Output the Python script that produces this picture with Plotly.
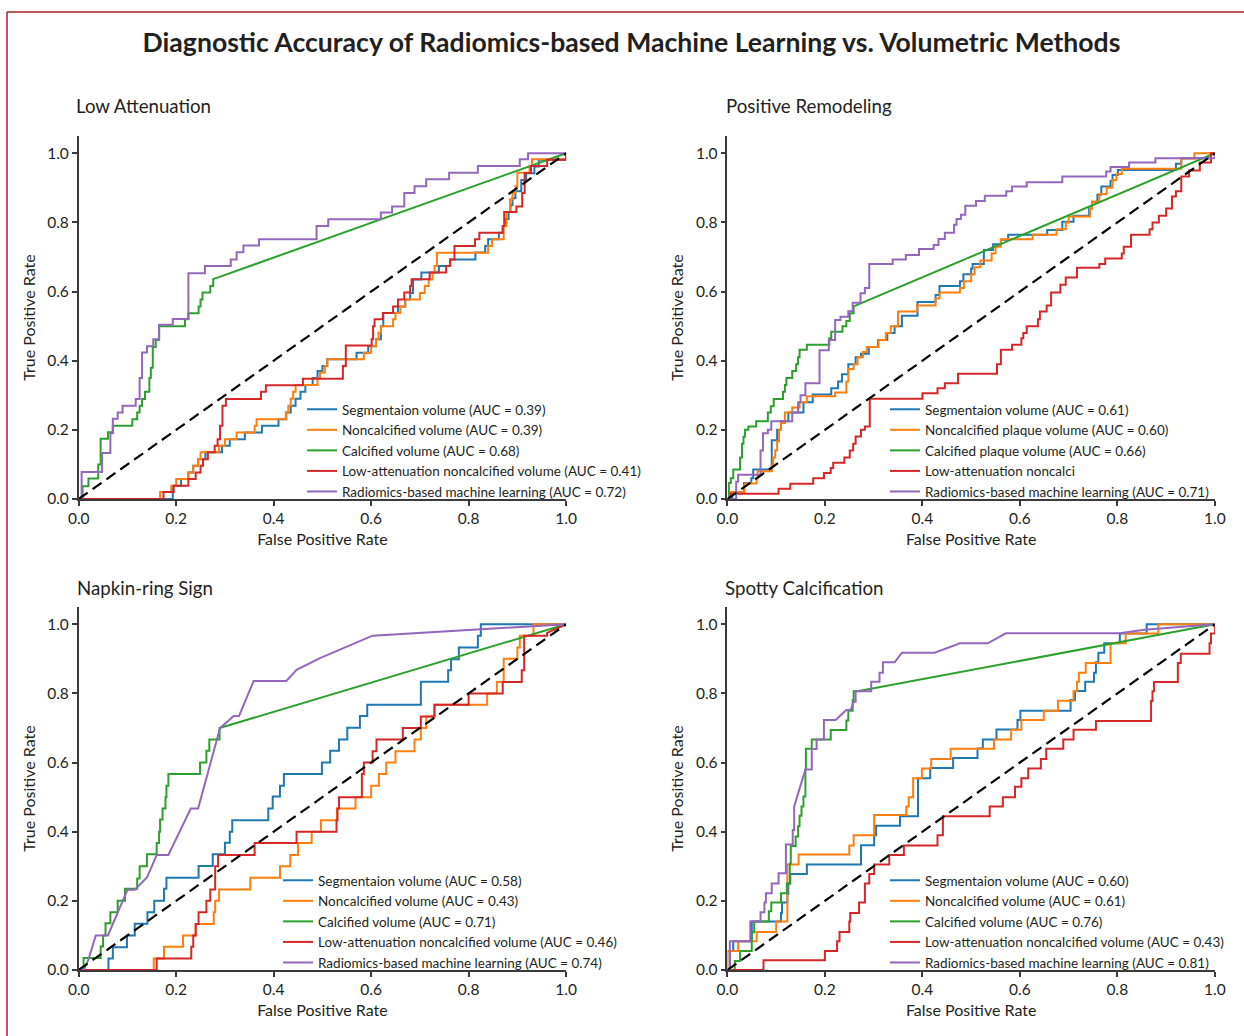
import plotly.graph_objects as go

# ---------------- data (ROC step vertices: (fpr, tpr) ; third item 'L' = straight segment) -------------
CURVE_NAMES_A = ["Segmentaion volume", "Noncalcified volume", "Calcified volume",
                 "Low-attenuation noncalcified volume", "Radiomics-based machine learning"]
CURVE_NAMES_B = ["Segmentaion volume", "Noncalcified plaque volume", "Calcified plaque volume",
                 "Low-attenuation noncalci", "Radiomics-based machine learning"]
PANEL_TITLES = ["Low Attenuation", "Positive Remodeling", "Napkin-ring Sign", "Spotty Calcification"]
AUC_LA = [0.39, 0.39, 0.68, 0.41, 0.72]
AUC_PR = [0.61, 0.60, 0.66, None, 0.71]
AUC_NR = [0.58, 0.43, 0.71, 0.46, 0.74]
AUC_SC = [0.60, 0.61, 0.76, 0.43, 0.81]
COLORS = ["#1f77b4", "#ff7f0e", "#2ca02c", "#d62728", "#9467bd"]

# Low Attenuation
LA_SEG = [(0, 0), (0.193, 0.038), (0.21, 0.058), (0.225, 0.077), (0.235, 0.096), (0.245, 0.115), (0.26, 0.135),
          (0.294, 0.154), (0.31, 0.173), (0.341, 0.192), (0.376, 0.212), (0.41, 0.231), (0.426, 0.25), (0.435, 0.27),
          (0.445, 0.29), (0.455, 0.31), (0.465, 0.33), (0.48, 0.35), (0.49, 0.37), (0.5, 0.385), (0.51, 0.404),
          (0.57, 0.423), (0.594, 0.442), (0.61, 0.462), (0.62, 0.5), (0.625, 0.538), (0.655, 0.557), (0.67, 0.577),
          (0.68, 0.596), (0.686, 0.635), (0.703, 0.655), (0.739, 0.674), (0.762, 0.693), (0.814, 0.713),
          (0.834, 0.732), (0.84, 0.751), (0.862, 0.77), (0.87, 0.79), (0.876, 0.81), (0.882, 0.83), (0.886, 0.85),
          (0.89, 0.87), (0.896, 0.89), (0.908, 0.923), (0.918, 0.942), (0.935, 0.962), (0.944, 0.981), (1.0, 1.0)]
LA_NONCAL = [(0, 0), (0.167, 0.02), (0.19, 0.038), (0.2, 0.058), (0.225, 0.077), (0.235, 0.096), (0.245, 0.115),
             (0.25, 0.135), (0.288, 0.154), (0.3, 0.173), (0.324, 0.192), (0.361, 0.212), (0.365, 0.231),
             (0.425, 0.25), (0.43, 0.27), (0.435, 0.29), (0.44, 0.31), (0.445, 0.33), (0.49, 0.35), (0.495, 0.366),
             (0.505, 0.385), (0.51, 0.404), (0.585, 0.423), (0.6, 0.442), (0.61, 0.462), (0.615, 0.481),
             (0.62, 0.5), (0.645, 0.52), (0.65, 0.538), (0.66, 0.557), (0.67, 0.577), (0.7, 0.596), (0.71, 0.616),
             (0.718, 0.635), (0.726, 0.655), (0.73, 0.674), (0.735, 0.712), (0.84, 0.732), (0.848, 0.751),
             (0.872, 0.79), (0.878, 0.83), (0.885, 0.867), (0.89, 0.885), (0.896, 0.905), (0.9, 0.944),
             (0.925, 0.963), (0.93, 0.983), (1.0, 1.0)]
LA_CAL = [(0, 0), (0.008, 0.037), (0.02, 0.059), (0.04, 0.1), (0.045, 0.174), (0.06, 0.193), (0.07, 0.212),
          (0.11, 0.231), (0.12, 0.25), (0.125, 0.27), (0.13, 0.289), (0.136, 0.31), (0.145, 0.35), (0.148, 0.38),
          (0.152, 0.44), (0.158, 0.46), (0.165, 0.5), (0.218, 0.52), (0.225, 0.537), (0.246, 0.557),
          (0.25, 0.577), (0.254, 0.597), (0.27, 0.616), (0.276, 0.636), (1.0, 1.0, 'L')]
LA_LOWATT = [(0, 0), (0.174, 0.02), (0.195, 0.038), (0.225, 0.058), (0.24, 0.077), (0.25, 0.096), (0.255, 0.115),
             (0.265, 0.135), (0.279, 0.154), (0.285, 0.173), (0.29, 0.212), (0.295, 0.27), (0.302, 0.289),
             (0.374, 0.31), (0.384, 0.329), (0.46, 0.348), (0.542, 0.385), (0.548, 0.444), (0.601, 0.462),
             (0.604, 0.5), (0.607, 0.52), (0.624, 0.538), (0.645, 0.557), (0.655, 0.577), (0.668, 0.597),
             (0.68, 0.616), (0.683, 0.636), (0.72, 0.655), (0.754, 0.674), (0.762, 0.693), (0.771, 0.732),
             (0.813, 0.751), (0.822, 0.77), (0.87, 0.79), (0.873, 0.83), (0.898, 0.846), (0.91, 0.885),
             (0.915, 0.943), (0.928, 0.963), (0.961, 0.981), (1.0, 1.0)]
LA_RAD = [(0, 0), (0.006, 0.078), (0.048, 0.133), (0.065, 0.19), (0.07, 0.232), (0.08, 0.25), (0.09, 0.27),
          (0.117, 0.289), (0.125, 0.35), (0.13, 0.424), (0.14, 0.442), (0.153, 0.462), (0.165, 0.504),
          (0.193, 0.521), (0.225, 0.653), (0.259, 0.674), (0.312, 0.693), (0.324, 0.714), (0.338, 0.733),
          (0.37, 0.751), (0.488, 0.79), (0.512, 0.809), (0.62, 0.829), (0.643, 0.846), (0.668, 0.885),
          (0.689, 0.905), (0.713, 0.925), (0.76, 0.944), (0.819, 0.963), (0.905, 0.983), (0.922, 1.0), (1.0, 1.0)]

# Positive Remodeling
PR_SEG = [(0, 0), (0.01, 0.02), (0.034, 0.046), (0.049, 0.06), (0.053, 0.085), (0.091, 0.17), (0.102, 0.2),
          (0.11, 0.225), (0.125, 0.25), (0.156, 0.28), (0.175, 0.302), (0.213, 0.32), (0.227, 0.34), (0.235, 0.361),
          (0.248, 0.39), (0.263, 0.41), (0.274, 0.42), (0.29, 0.44), (0.309, 0.46), (0.328, 0.48), (0.343, 0.5),
          (0.358, 0.53), (0.39, 0.57), (0.427, 0.59), (0.435, 0.616), (0.477, 0.63), (0.484, 0.65), (0.5, 0.667),
          (0.503, 0.68), (0.526, 0.72), (0.545, 0.737), (0.561, 0.75), (0.576, 0.764), (0.656, 0.778),
          (0.687, 0.802), (0.71, 0.819), (0.742, 0.84), (0.748, 0.86), (0.759, 0.88), (0.767, 0.904),
          (0.786, 0.92), (0.79, 0.937), (0.801, 0.952), (0.92, 0.97), (0.931, 0.986), (0.992, 1.0), (1.0, 1.0)]
PR_NONCAL = [(0, 0), (0.007, 0.02), (0.035, 0.045), (0.06, 0.06), (0.062, 0.08), (0.091, 0.1), (0.094, 0.12),
             (0.098, 0.14), (0.102, 0.167), (0.106, 0.2), (0.11, 0.22), (0.118, 0.25), (0.133, 0.265),
             (0.148, 0.28), (0.163, 0.297), (0.221, 0.308), (0.244, 0.34), (0.248, 0.376), (0.259, 0.39),
             (0.267, 0.41), (0.278, 0.425), (0.286, 0.44), (0.31, 0.46), (0.325, 0.48), (0.335, 0.5),
             (0.35, 0.542), (0.389, 0.56), (0.427, 0.58), (0.435, 0.597), (0.477, 0.61), (0.485, 0.63),
             (0.5, 0.65), (0.507, 0.67), (0.519, 0.69), (0.542, 0.71), (0.55, 0.73), (0.561, 0.751),
             (0.626, 0.764), (0.675, 0.78), (0.694, 0.8), (0.7, 0.817), (0.744, 0.84), (0.748, 0.86),
             (0.763, 0.882), (0.778, 0.9), (0.79, 0.923), (0.798, 0.94), (0.809, 0.955), (0.931, 0.985),
             (0.958, 1.0), (1.0, 1.0)]
PR_CAL = [(0, 0), (0.003, 0.046), (0.007, 0.06), (0.012, 0.085), (0.026, 0.12), (0.03, 0.16), (0.033, 0.18),
          (0.036, 0.2), (0.043, 0.21), (0.059, 0.225), (0.083, 0.25), (0.089, 0.268), (0.095, 0.289),
          (0.114, 0.31), (0.118, 0.33), (0.121, 0.35), (0.133, 0.37), (0.141, 0.39), (0.145, 0.41),
          (0.148, 0.432), (0.163, 0.446), (0.209, 0.465), (0.213, 0.484), (0.236, 0.5), (0.244, 0.515),
          (0.251, 0.537), (0.259, 0.557), (1.0, 1.0, 'L')]
PR_LOWATT = [(0, 0), (0.007, 0.015), (0.105, 0.03), (0.129, 0.044), (0.176, 0.06), (0.198, 0.075),
             (0.212, 0.09), (0.217, 0.105), (0.24, 0.12), (0.251, 0.14), (0.258, 0.16), (0.263, 0.181),
             (0.274, 0.2), (0.282, 0.21), (0.292, 0.29), (0.4, 0.306), (0.431, 0.32), (0.446, 0.335),
             (0.473, 0.362), (0.553, 0.39), (0.561, 0.432), (0.584, 0.446), (0.603, 0.465), (0.607, 0.48),
             (0.614, 0.5), (0.637, 0.52), (0.641, 0.542), (0.655, 0.56), (0.664, 0.597), (0.683, 0.62),
             (0.694, 0.641), (0.717, 0.669), (0.763, 0.68), (0.775, 0.696), (0.809, 0.71), (0.813, 0.73),
             (0.828, 0.764), (0.866, 0.78), (0.872, 0.8), (0.885, 0.819), (0.9, 0.84), (0.912, 0.875),
             (0.92, 0.89), (0.931, 0.933), (0.947, 0.95), (0.969, 0.973), (0.992, 1.0), (1.0, 1.0)]
PR_RAD = [(0, 0), (0.018, 0.05), (0.022, 0.07), (0.068, 0.14), (0.073, 0.19), (0.083, 0.2), (0.09, 0.225),
          (0.133, 0.25), (0.145, 0.28), (0.15, 0.3), (0.16, 0.335), (0.189, 0.43), (0.208, 0.46), (0.221, 0.518),
          (0.232, 0.527), (0.248, 0.543), (0.257, 0.568), (0.273, 0.595), (0.282, 0.61), (0.291, 0.68),
          (0.339, 0.693), (0.366, 0.706), (0.393, 0.723), (0.423, 0.735), (0.433, 0.752), (0.446, 0.77),
          (0.465, 0.793), (0.47, 0.81), (0.479, 0.822), (0.488, 0.848), (0.51, 0.862), (0.528, 0.877),
          (0.572, 0.89), (0.584, 0.904), (0.614, 0.916), (0.687, 0.933), (0.777, 0.947), (0.786, 0.96),
          (0.824, 0.973), (0.878, 0.986), (1.0, 1.0)]

# Napkin-ring Sign
NR_SEG = [(0, 0), (0.061, 0.033), (0.07, 0.066), (0.099, 0.1), (0.115, 0.134), (0.141, 0.167), (0.155, 0.2),
          (0.175, 0.235), (0.18, 0.267), (0.246, 0.301), (0.275, 0.335), (0.3, 0.368), (0.31, 0.4), (0.315, 0.433),
          (0.389, 0.467), (0.398, 0.502), (0.413, 0.533), (0.421, 0.567), (0.499, 0.6), (0.516, 0.634),
          (0.534, 0.667), (0.551, 0.701), (0.577, 0.735), (0.592, 0.767), (0.702, 0.834), (0.758, 0.867),
          (0.764, 0.899), (0.78, 0.933), (0.819, 0.967), (0.825, 1.0), (1.0, 1.0)]
NR_NONCAL = [(0, 0), (0.154, 0.033), (0.175, 0.067), (0.214, 0.1), (0.24, 0.133), (0.277, 0.167), (0.28, 0.2),
             (0.288, 0.233), (0.352, 0.267), (0.413, 0.3), (0.434, 0.333), (0.45, 0.367), (0.478, 0.4),
             (0.497, 0.433), (0.53, 0.467), (0.568, 0.5), (0.6, 0.533), (0.616, 0.567), (0.631, 0.6),
             (0.65, 0.633), (0.689, 0.667), (0.702, 0.7), (0.713, 0.733), (0.73, 0.767), (0.838, 0.8),
             (0.858, 0.833), (0.872, 0.9), (0.9, 0.933), (0.905, 0.967), (0.933, 1.0), (1.0, 1.0)]
NR_CAL = [(0, 0), (0.01, 0.035), (0.045, 0.068), (0.05, 0.1), (0.055, 0.135), (0.065, 0.167), (0.08, 0.2),
          (0.095, 0.235), (0.12, 0.265), (0.125, 0.3), (0.14, 0.335), (0.16, 0.367), (0.165, 0.4),
          (0.167, 0.435), (0.172, 0.467), (0.178, 0.5), (0.18, 0.533), (0.184, 0.567), (0.249, 0.6),
          (0.262, 0.634), (0.268, 0.667), (0.289, 0.7), (1.0, 1.0, 'L')]
NR_LOWATT = [(0, 0), (0.16, 0.033), (0.231, 0.067), (0.235, 0.1), (0.24, 0.133), (0.246, 0.167), (0.262, 0.2),
             (0.27, 0.233), (0.28, 0.3), (0.286, 0.333), (0.361, 0.367), (0.447, 0.4), (0.529, 0.433),
             (0.531, 0.467), (0.534, 0.5), (0.581, 0.567), (0.585, 0.6), (0.603, 0.633), (0.611, 0.667),
             (0.665, 0.7), (0.702, 0.733), (0.73, 0.767), (0.8, 0.8), (0.87, 0.833), (0.909, 0.867),
             (0.914, 0.967), (0.961, 0.975), (1.0, 1.0, 'L')]
NR_RAD = [(0, 0), (0.01, 0, 'L'), (0.02, 0.03, 'L'), (0.035, 0.1, 'L'), (0.06, 0.1, 'L'), (0.1, 0.232, 'L'),
          (0.115, 0.232, 'L'), (0.14, 0.268, 'L'), (0.15, 0.3, 'L'), (0.16, 0.333, 'L'), (0.184, 0.333, 'L'),
          (0.23, 0.467, 'L'), (0.245, 0.467, 'L'), (0.279, 0.637, 'L'), (0.289, 0.695, 'L'), (0.29, 0.7, 'L'),
          (0.318, 0.735, 'L'), (0.329, 0.735, 'L'), (0.359, 0.836, 'L'), (0.426, 0.836, 'L'),
          (0.447, 0.868, 'L'), (0.495, 0.902, 'L'), (0.603, 0.967, 'L'), (0.823, 0.986, 'L'), (1.0, 1.0, 'L')]

# Spotty Calcification
SC_SEG = [(0, 0), (0.005, 0.055), (0.012, 0.083), (0.05, 0.14), (0.11, 0.165), (0.112, 0.195), (0.123, 0.22),
          (0.125, 0.25), (0.129, 0.278), (0.163, 0.305), (0.274, 0.361), (0.301, 0.39), (0.305, 0.417),
          (0.354, 0.445), (0.391, 0.555), (0.416, 0.584), (0.463, 0.613), (0.513, 0.641), (0.524, 0.667),
          (0.552, 0.696), (0.595, 0.723), (0.601, 0.75), (0.704, 0.781), (0.713, 0.807), (0.734, 0.834),
          (0.752, 0.86), (0.756, 0.89), (0.761, 0.918), (0.773, 0.945), (0.805, 0.973), (0.86, 1.0), (1.0, 1.0)]
SC_NONCAL = [(0, 0), (0.0, 0.055), (0.022, 0.083), (0.06, 0.11), (0.1, 0.14), (0.123, 0.305), (0.146, 0.334),
             (0.25, 0.36), (0.259, 0.39), (0.301, 0.448), (0.367, 0.473), (0.372, 0.5), (0.381, 0.555),
             (0.399, 0.583), (0.418, 0.61), (0.458, 0.64), (0.547, 0.667), (0.582, 0.695), (0.603, 0.723),
             (0.649, 0.75), (0.678, 0.779), (0.71, 0.806), (0.717, 0.834), (0.721, 0.86), (0.735, 0.888),
             (0.786, 0.945), (0.817, 0.973), (0.884, 1.0), (1.0, 1.0)]
SC_CAL = [(0, 0), (0.015, 0.026), (0.026, 0.055), (0.05, 0.109), (0.055, 0.14), (0.085, 0.17), (0.09, 0.195),
          (0.11, 0.222), (0.122, 0.25), (0.128, 0.308), (0.13, 0.359), (0.14, 0.386), (0.145, 0.416),
          (0.148, 0.446), (0.152, 0.473), (0.156, 0.502), (0.16, 0.58), (0.161, 0.64), (0.173, 0.667),
          (0.212, 0.694), (0.244, 0.722), (0.248, 0.75), (0.257, 0.781), (0.259, 0.806), (0.267, 0.806),
          (1.0, 1.0, 'L')]
SC_LOWATT = [(0, 0), (0.074, 0.028), (0.2, 0.055), (0.225, 0.083), (0.23, 0.11), (0.25, 0.14), (0.252, 0.165),
             (0.27, 0.195), (0.282, 0.25), (0.291, 0.278), (0.301, 0.305), (0.332, 0.333), (0.362, 0.36),
             (0.431, 0.39), (0.442, 0.445), (0.538, 0.473), (0.565, 0.5), (0.59, 0.53), (0.603, 0.555),
             (0.617, 0.583), (0.643, 0.61), (0.654, 0.64), (0.689, 0.667), (0.71, 0.695), (0.756, 0.72),
             (0.869, 0.778), (0.872, 0.806), (0.875, 0.833), (0.924, 0.888), (0.93, 0.915), (0.989, 0.945),
             (0.992, 0.973), (1.0, 1.0)]
SC_RAD = [(0, 0), (0.005, 0.083), (0.047, 0.14), (0.068, 0.167), (0.076, 0.195), (0.079, 0.222), (0.091, 0.25),
          (0.105, 0.28), (0.12, 0.363), (0.134, 0.405), (0.137, 0.473), (0.16, 0.58, 'L'), (0.173, 0.639),
          (0.183, 0.667), (0.198, 0.723), (0.222, 0.723), (0.244, 0.752, 'L'), (0.253, 0.752),
          (0.259, 0.776, 'L'), (0.263, 0.806), (0.295, 0.834), (0.312, 0.86), (0.319, 0.89), (0.343, 0.89),
          (0.358, 0.918, 'L'), (0.425, 0.918), (0.477, 0.945, 'L'), (0.534, 0.945), (0.571, 0.974, 'L'),
          (0.805, 0.974), (0.855, 0.984, 'L'), (1.0, 1.0, 'L')]

CHANCE = [0.0, 1.0]
TICKS = [0.0, 0.2, 0.4, 0.6, 0.8, 1.0]


def expand(points):
    """Turn ROC vertices into an explicit polyline (horizontal-then-vertical steps)."""
    xs, ys = [points[0][0]], [points[0][1]]
    for p in points[1:]:
        x, y = p[0], p[1]
        straight = len(p) > 2
        if not straight and x != xs[-1] and y != ys[-1]:
            xs.append(x)
            ys.append(ys[-1])
        xs.append(x)
        ys.append(y)
    return xs, ys


TXT = "#231f20"
FONT = "Lato"
AX = "#3a3a3a"

panels = [
    (PANEL_TITLES[0], [LA_SEG, LA_NONCAL, LA_CAL, LA_LOWATT, LA_RAD], CURVE_NAMES_A, AUC_LA),
    (PANEL_TITLES[1], [PR_SEG, PR_NONCAL, PR_CAL, PR_LOWATT, PR_RAD], CURVE_NAMES_B, AUC_PR),
    (PANEL_TITLES[2], [NR_SEG, NR_NONCAL, NR_CAL, NR_LOWATT, NR_RAD], CURVE_NAMES_A, AUC_NR),
    (PANEL_TITLES[3], [SC_SEG, SC_NONCAL, SC_CAL, SC_LOWATT, SC_RAD], CURVE_NAMES_A, AUC_SC),
]

W, H = 1244, 1036
XDOM = [[78.7 / W, 566.1 / W], [727.4 / W, 1214.9 / W]]
YDOM = [[(H - 499) / H, (H - 136) / H], [(H - 970) / H, (H - 607) / H]]
TITLE_POS = [(74, 106), (724, 106), (75, 588), (723, 588)]
LEG_POS = [(302, 450.5), (885, 450.5), (278, 921.5), (885, 921.5)]

fig = go.Figure()
layout = dict()
annotations = []

for i, (ptitle, curves, names, aucs) in enumerate(panels):
    r, c = divmod(i, 2)
    sfx = "" if i == 0 else str(i + 1)
    xa, ya = "x" + sfx, "y" + sfx
    leg = "legend" + sfx
    for k, pts in enumerate(curves):
        xs, ys = expand(pts)
        label = names[k] if aucs[k] is None else f"{names[k]} (AUC = {aucs[k]:.2f})"
        fig.add_trace(go.Scatter(x=xs, y=ys, mode="lines", name=label, xaxis=xa, yaxis=ya,
                                 line=dict(color=COLORS[k], width=2), legend=leg))
    fig.add_trace(go.Scatter(x=CHANCE, y=CHANCE, mode="lines", showlegend=False, xaxis=xa, yaxis=ya,
                             line=dict(color="black", width=2.2, dash="11px,6px")))

    axcommon = dict(showline=True, linecolor=AX, linewidth=1.5, ticks="outside", ticklen=5, tickwidth=1.5,
                    tickcolor=AX, showgrid=False, zeroline=False, tickvals=TICKS, tickformat=".1f",
                    tickfont=dict(family=FONT, size=15.5, color=TXT), automargin=False, fixedrange=True)
    layout["xaxis" + sfx] = dict(axcommon, domain=XDOM[c], range=[0, 1], anchor=ya, ticklabelstandoff=0,
                                 title=dict(text="False Positive Rate", font=dict(family=FONT, size=16, color=TXT),
                                            standoff=7))
    layout["yaxis" + sfx] = dict(axcommon, domain=YDOM[r], range=[0, 1.05], anchor=xa,
                                 title=dict(text="True Positive Rate", font=dict(family=FONT, size=16, color=TXT),
                                            standoff=8))
    lx, ly = LEG_POS[i]
    layout[leg] = dict(x=lx / W, y=(H - ly) / H, xanchor="left", yanchor="middle", bgcolor="rgba(0,0,0,0)",
                       borderwidth=0, font=dict(family=FONT, size=13.5, color=TXT), itemwidth=30)
    tx, ty = TITLE_POS[i]
    annotations.append(dict(text=ptitle, x=tx / W, y=(H - ty) / H, xref="paper", yref="paper",
                            xanchor="left", yanchor="middle", showarrow=False,
                            font=dict(family=FONT, size=18.7, color=TXT)))

fig.update_layout(
    width=W, height=H, autosize=False,
    margin=dict(l=0, r=0, t=0, b=0),
    paper_bgcolor="white", plot_bgcolor="white",
    title=dict(text="Diagnostic Accuracy of Radiomics-based Machine Learning vs. Volumetric Methods",
               x=631.5 / W, xanchor="center", y=(H - 43) / H, yanchor="middle",
               font=dict(family=FONT, size=26.6, color=TXT, weight="bold")),
    annotations=annotations,
    shapes=[
        dict(type="line", xref="paper", yref="paper", x0=7 / W, x1=1, y0=(H - 12) / H, y1=(H - 12) / H,
             line=dict(color="#a8202a", width=1.5)),
        dict(type="line", xref="paper", yref="paper", x0=7 / W, x1=7 / W, y0=0, y1=(H - 12) / H,
             line=dict(color="#a8202a", width=1.5)),
    ],
    **layout,
)

fig.write_html("out.html")
